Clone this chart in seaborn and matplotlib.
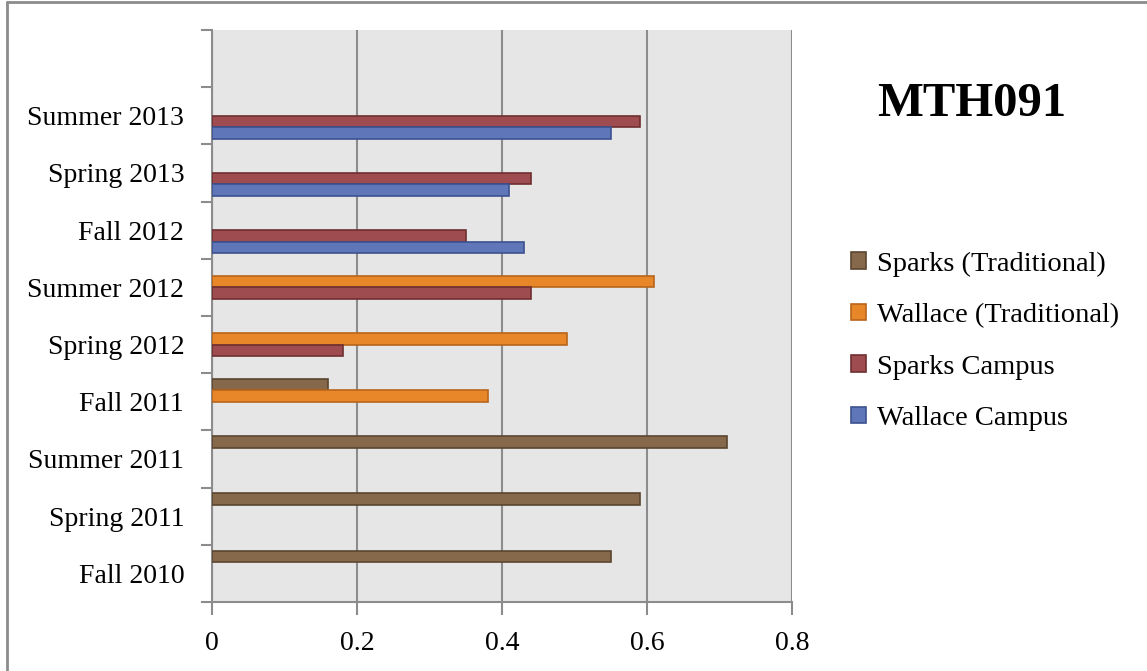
import matplotlib
matplotlib.use("Agg")
import matplotlib.pyplot as plt
from matplotlib.patches import Patch
from matplotlib.lines import Line2D
from matplotlib.ticker import FixedLocator
import seaborn as sns
import pandas as pd

# Terms, top to bottom (an empty slot sits above the first term)
terms = ["Summer 2013", "Spring 2013", "Fall 2012", "Summer 2012", "Spring 2012",
         "Fall 2011", "Summer 2011", "Spring 2011", "Fall 2010"]

series = ["Sparks (Traditional)", "Wallace (Traditional)", "Sparks Campus", "Wallace Campus"]

sparks_trad_terms = ["Fall 2011", "Summer 2011", "Spring 2011", "Fall 2010"]
sparks_trad_vals = [0.16, 0.71, 0.59, 0.55]

wallace_trad_terms = ["Summer 2012", "Spring 2012", "Fall 2011"]
wallace_trad_vals = [0.61, 0.49, 0.38]

sparks_campus_terms = ["Summer 2013", "Spring 2013", "Fall 2012", "Summer 2012", "Spring 2012"]
sparks_campus_vals = [0.59, 0.44, 0.35, 0.44, 0.18]

wallace_campus_terms = ["Summer 2013", "Spring 2013", "Fall 2012"]
wallace_campus_vals = [0.55, 0.41, 0.43]

fills = ["#85694a", "#e8872a", "#9e4c4f", "#5f77b8"]
edges = ["#5a4630", "#b8651c", "#6f2f31", "#3c5190"]

rows = []
for name, t, v in zip(series,
                      [sparks_trad_terms, wallace_trad_terms, sparks_campus_terms, wallace_campus_terms],
                      [sparks_trad_vals, wallace_trad_vals, sparks_campus_vals, wallace_campus_vals]):
    for term, val in zip(t, v):
        rows.append({"term": term, "value": val, "series": name})
df = pd.DataFrame(rows)

sns.set_style("white")
plt.rcParams["font.family"] = ["Liberation Serif", "DejaVu Serif"]
plt.rcParams["text.color"] = "black"
plt.rcParams["axes.labelcolor"] = "black"

fig = plt.figure(figsize=(11.47, 6.71), dpi=100)
ax = fig.add_axes([212 / 1147, 1 - 602 / 671, 580 / 1147, 572 / 671])
ax.set_facecolor("#e6e6e6")

sns.barplot(data=df, y="term", x="value", hue="series", order=terms, hue_order=series,
            palette=dict(zip(series, fills)), saturation=1, orient="h", errorbar=None,
            width=0.8, ax=ax, legend=False, zorder=3)

for bars, ec in zip(ax.containers, edges):
    for b in bars:
        b.set_edgecolor(ec)
        b.set_linewidth(1.2)

ax.set_ylim(len(terms) - 0.5, -1.5)
ax.set_xlim(0, 0.8)
ax.set_xticks([0, 0.2, 0.4, 0.6, 0.8])
ax.set_xticklabels(["0", "0.2", "0.4", "0.6", "0.8"])
ax.xaxis.grid(True, color="#8c8c8c", linewidth=1.5, zorder=1)
ax.yaxis.grid(False)
ax.set_axisbelow(True)

ax.set_yticks(range(len(terms)))
ax.set_yticklabels(terms)
ax.yaxis.set_minor_locator(FixedLocator([i - 1.5 for i in range(len(terms) + 2)]))
ax.tick_params(axis="y", which="major", length=0, pad=20, labelsize=20, labelcolor="black")
ax.tick_params(axis="y", which="minor", left=True, length=8, width=1.5, color="#8c8c8c")
ax.tick_params(axis="x", which="major", bottom=True, length=9, width=1.5, color="#8c8c8c",
               pad=12, labelsize=20, labelcolor="black")
ax.set_xlabel("")
ax.set_ylabel("")

for side in ["top", "right"]:
    ax.spines[side].set_visible(False)
for side in ["left", "bottom"]:
    ax.spines[side].set_color("#8c8c8c")
    ax.spines[side].set_linewidth(1.5)

fig.text(972 / 1147, 1 - 104 / 671, "MTH091", fontsize=35, fontweight="bold",
         color="black", ha="center", va="center")

handles = [Patch(facecolor=f, edgecolor=e, linewidth=1.2) for f, e in zip(fills, edges)]
fig.legend(handles, series, loc="upper left", bbox_to_anchor=(840 / 1147, 1 - 240 / 671),
           frameon=False, fontsize=20.5, handlelength=0.5, handleheight=0.5,
           handletextpad=0.4, labelspacing=0.93, borderaxespad=0, labelcolor="black")

# chart frame
fig.add_artist(Line2D([7 / 1147, 7 / 1147], [0, 1 - 2 / 671], color="#8c8c8c", linewidth=2,
                      transform=fig.transFigure))
fig.add_artist(Line2D([7 / 1147, 1], [1 - 2 / 671, 1 - 2 / 671], color="#8c8c8c", linewidth=2,
                      transform=fig.transFigure))

fig.savefig("out.png", dpi=100, facecolor="white")
